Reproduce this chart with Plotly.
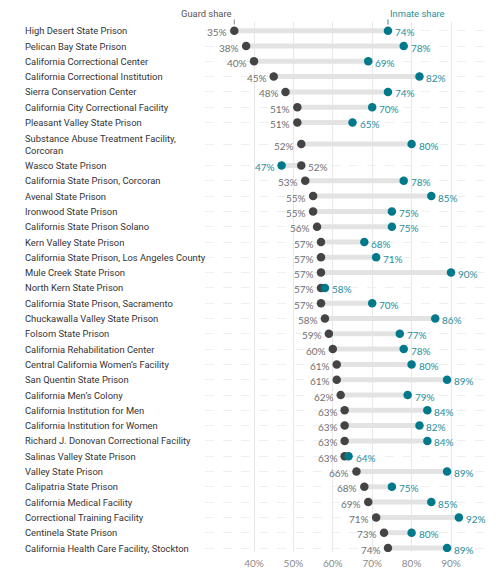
import plotly.graph_objects as go

facilities = [
    "High Desert State Prison",
    "Pelican Bay State Prison",
    "California Correctional Center",
    "California Correctional Institution",
    "Sierra Conservation Center",
    "California City Correctional Facility",
    "Pleasant Valley State Prison",
    "Substance Abuse Treatment Facility,<br>Corcoran",
    "Wasco State Prison",
    "California State Prison, Corcoran",
    "Avenal State Prison",
    "Ironwood State Prison",
    "Californis State Prison Solano",
    "Kern Valley State Prison",
    "California State Prison, Los Angeles County",
    "Mule Creek State Prison",
    "North Kern State Prison",
    "California State Prison, Sacramento",
    "Chuckawalla Valley State Prison",
    "Folsom State Prison",
    "California Rehabilitation Center",
    "Central California Women’s Facility",
    "San Quentin State Prison",
    "California Men’s Colony",
    "California Institution for Men",
    "California Institution for Women",
    "Richard J. Donovan Correctional Facility",
    "Salinas Valley State Prison",
    "Valley State Prison",
    "Calipatria State Prison",
    "California Medical Facility",
    "Correctional Training Facility",
    "Centinela State Prison",
    "California Health Care Facility, Stockton",
]
guard_share = [35, 38, 40, 45, 48, 51, 51, 52, 52, 53, 55, 55, 56, 57, 57, 57, 57,
               57, 58, 59, 60, 61, 61, 62, 63, 63, 63, 63, 66, 68, 69, 71, 73, 74]
inmate_share = [74, 78, 69, 82, 74, 70, 65, 80, 47, 78, 85, 75, 75, 68, 71, 90, 58,
                70, 86, 77, 78, 80, 89, 79, 84, 82, 84, 64, 89, 75, 85, 92, 80, 89]
tick_values = [40, 50, 60, 70, 80, 90]
tick_labels = ["40%", "50%", "60%", "70%", "80%", "90%"]

GUARD = "#444444"
INMATE = "#00798a"
GUARD_TXT = "#707070"
INMATE_TXT = "#1f8e9b"
LABEL_FONT = "Roboto, sans-serif"
NUM_FONT = "Lato, sans-serif"
LABEL_SIZE = 9.4
NUM_SIZE = 10

# row positions: two-line labels take more vertical room
heights = [1 + 0.81 * f.count("<br>") for f in facilities]
pos = [0.0]
for i in range(1, len(facilities)):
    pos.append(pos[-1] + (heights[i - 1] + heights[i]) / 2)

# page has an 8px body margin; geometry below is in figure pixels
OFF = 8
W, H = 488, 563
L = 205 - OFF
R = W - (488 - OFF)
T = 22 - OFF
B = H - (552 - OFF)
pw, ph = W - L - R, H - T - B
ROW = 15.3
first_row = 30.7 - OFF
last_row = 548 - OFF

fig = go.Figure()

lx, ly = [], []
for g, m, p in zip(guard_share, inmate_share, pos):
    lx += [g, m, None]
    ly += [p, p, None]
fig.add_trace(go.Scatter(x=lx, y=ly, mode="lines",
                         line=dict(color="#e3e3e3", width=5),
                         hoverinfo="skip", showlegend=False))
fig.add_trace(go.Scatter(x=guard_share, y=pos, mode="markers",
                         marker=dict(color=GUARD, size=8.5),
                         showlegend=False))
fig.add_trace(go.Scatter(x=inmate_share, y=pos, mode="markers",
                         marker=dict(color=INMATE, size=8.5),
                         showlegend=False))

ann = []
for f, g, m, p in zip(facilities, guard_share, inmate_share, pos):
    ann.append(dict(x=(23 - OFF - L) / pw, xref="paper", y=p, yref="y",
                    text=f, showarrow=False, xanchor="left", align="left",
                    font=dict(family=LABEL_FONT, size=LABEL_SIZE, color="#333333")))
    left_guard = g <= m
    ann.append(dict(x=g, y=p, xref="x", yref="y", text=f"{g}%", showarrow=False,
                    xanchor="right" if left_guard else "left",
                    xshift=-5 if left_guard else 5, yshift=-1.5,
                    font=dict(family=NUM_FONT, size=NUM_SIZE, color=GUARD_TXT)))
    ann.append(dict(x=m, y=p, xref="x", yref="y", text=f"{m}%", showarrow=False,
                    xanchor="left" if left_guard else "right",
                    xshift=5 if left_guard else -5, yshift=-1.5,
                    font=dict(family=NUM_FONT, size=NUM_SIZE, color=INMATE_TXT)))

def py(pix):
    return (H - B - (pix - OFF)) / ph

ann.append(dict(x=guard_share[0], xref="x", y=py(13.5), yref="paper",
                text="Guard share", showarrow=False, xanchor="right", yanchor="middle",
                font=dict(family=LABEL_FONT, size=LABEL_SIZE, color="#555555")))
ann.append(dict(x=inmate_share[0], xref="x", y=py(13.5), yref="paper",
                text="Inmate share", showarrow=False, xanchor="left", yanchor="middle",
                font=dict(family=LABEL_FONT, size=LABEL_SIZE, color=INMATE_TXT)))

shapes = []
for xv, col in [(guard_share[0], "#888888"), (inmate_share[0], INMATE_TXT)]:
    shapes.append(dict(type="line", xref="x", yref="paper", x0=xv, x1=xv,
                       y0=py(19.5), y1=py(24.5), line=dict(color=col, width=1)))

px_per = 197 / 50.0
x0 = 40 - (254 - 205) / px_per
x1 = 40 + (488 - 254) / px_per
ytop = -(first_row - T) / ROW
ybot = pos[-1] + (H - B - last_row) / ROW

fig.update_layout(
    width=W, height=H,
    margin=dict(l=L, r=R, t=T, b=B, pad=0),
    plot_bgcolor="white", paper_bgcolor="white",
    annotations=ann, shapes=shapes,
    xaxis=dict(range=[x0, x1], tickvals=tick_values, ticktext=tick_labels,
               showgrid=True, gridcolor="#e8e8e8", gridwidth=1, zeroline=False,
               showline=False, ticks="", automargin=False, ticklabelstandoff=4,
               tickfont=dict(family=NUM_FONT, size=NUM_SIZE, color="#8a8a8a")),
    yaxis=dict(range=[ybot, ytop], tickvals=pos, showticklabels=False,
               showgrid=True, gridcolor="#efefef", griddash="dash", gridwidth=1,
               zeroline=False, showline=False, ticks="", automargin=False),
    hovermode=False,
)

fig.write_html("out.html")
